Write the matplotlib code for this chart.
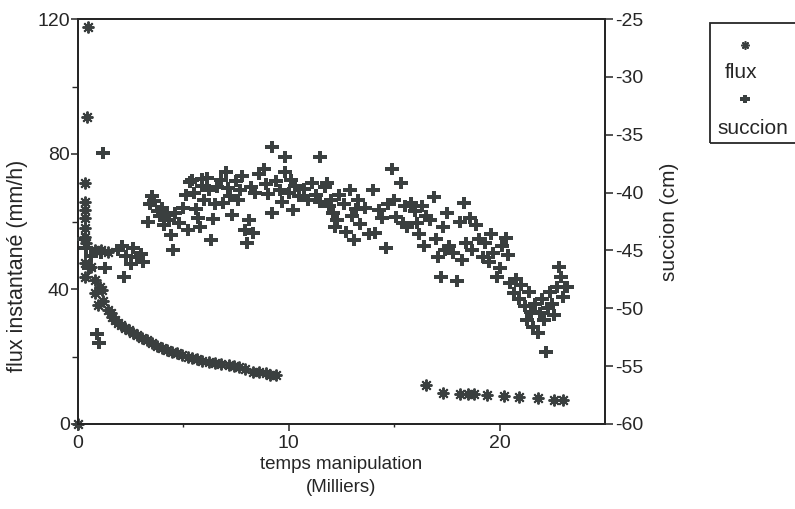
import matplotlib
matplotlib.use("Agg")
import matplotlib.pyplot as plt
from matplotlib.lines import Line2D
from matplotlib.patches import Rectangle
from matplotlib.path import Path

# ---- data ----
flux_t = [0.0, 0.48, 0.43, 0.33, 0.33, 0.35, 0.33, 0.33, 0.35, 0.4, 0.8, 1.1, 1.4,
          0.33, 0.35, 0.6, 0.8, 1.05,
          0.81, 1.14, 0.95, 1.2, 1.43, 1.55, 1.62, 1.75, 1.9, 2.05, 2.24, 2.4, 2.62,
          2.8, 3.05, 3.25, 3.52, 3.75, 4.0, 4.2, 4.48, 4.7, 4.95, 5.2, 5.43, 5.65,
          5.9, 6.2, 6.52, 6.8, 7.14, 7.4, 7.62, 7.9, 8.29, 8.6, 8.9, 9.1, 9.38,
          16.5, 17.3, 18.1, 18.5, 18.8, 19.4, 20.2, 20.9, 21.8, 22.6, 23.0]
flux_val = [0.0, 117.6, 91.0, 71.4, 65.8, 63.4, 61.0, 58.0, 55.5, 53.6, 51.5, 51.5, 51.0,
            47.6, 43.5, 46.5, 42.7, 40.6,
            38.8, 39.7, 35.3, 36.5, 33.8, 33.0, 31.7, 30.8, 29.9, 29.2, 28.4, 27.8, 27.0,
            26.3, 25.5, 24.8, 24.0, 23.1, 22.5, 21.9, 21.3, 20.9, 20.4, 20.0, 19.6, 19.2,
            18.7, 18.5, 18.1, 17.8, 17.5, 17.2, 16.9, 16.2, 15.4, 15.4, 15.1, 14.6, 14.5,
            11.5, 9.2, 9.0, 9.0, 9.0, 8.6, 8.4, 7.9, 7.6, 7.1, 7.1]

succion_t = [0.3, 0.4, 0.6, 0.5, 1.3, 1.2, 0.9, 1.0, 1.1,
             1.9, 2.1, 2.3, 2.6, 2.8, 3.0, 3.1, 2.2, 2.5,
             3.3, 3.4, 3.5, 3.6, 3.8, 3.9, 4.0, 4.2, 4.4, 4.5, 4.1, 4.3,
             4.6, 4.8, 5.0, 5.1, 5.2, 5.3, 5.5, 5.6, 5.7, 5.8, 5.9, 6.0, 5.4, 5.9,
             6.1, 6.2, 6.3, 6.4, 6.5, 6.6, 6.8, 7.0, 7.1, 7.2, 7.3, 7.5, 7.6, 7.8, 7.9,
             8.0, 8.1, 8.2, 8.3, 8.4, 6.9, 7.7,
             8.6, 8.8, 8.9, 9.0, 9.2, 9.2, 9.4, 9.6, 9.8, 9.8, 10.0, 10.2, 10.3, 10.5, 9.7, 10.1,
             10.7, 10.9, 11.1, 11.3, 11.5, 11.5, 11.7, 11.8, 12.0, 12.1, 12.3, 12.4, 12.2, 11.9,
             12.6, 12.7, 12.9, 13.0, 13.1, 13.3, 13.4, 13.6, 13.8, 14.0, 14.1, 14.3, 14.4, 13.2,
             14.6, 14.7, 14.9, 15.0, 15.1, 15.3, 15.5, 15.6, 15.8, 16.0, 16.1, 16.2, 16.4, 16.5,
             15.4, 16.3,
             16.7, 16.9, 17.0, 17.1, 17.2, 17.3, 17.5, 17.6, 17.8, 18.0, 18.1, 18.3, 18.4, 17.4, 18.2,
             18.6, 18.7, 18.9, 19.0, 19.2, 19.3, 19.5, 19.7, 19.9, 20.0, 20.1, 20.3, 20.4, 20.5, 19.6,
             20.7, 20.8, 20.9, 21.0, 21.2, 21.3, 21.4, 21.5, 21.6, 21.7, 21.8, 21.9, 22.0, 22.1,
             22.2, 22.3, 22.4, 22.5, 22.6, 22.7, 22.8, 22.9, 23.0, 23.1, 23.2]
succion_cm = [-44.0, -44.8, -45.5, -46.5, -46.5, -36.6, -52.2, -53.0, -45.2,
              -45.0, -44.6, -45.5, -44.8, -45.6, -45.3, -46.0, -47.3, -46.2,
              -42.5, -41.0, -40.3, -40.7, -41.6, -42.0, -41.3, -41.9, -43.7, -45.0, -42.8, -42.4,
              -41.8, -42.6, -41.3, -40.2, -43.2, -39.1, -40.0, -41.4, -42.2, -43.0, -39.4, -40.6,
              -38.9, -38.8,
              -38.7, -39.8, -44.1, -42.3, -41.0, -39.5, -38.9, -38.2, -39.6, -40.3, -41.9, -39.0,
              -40.6, -38.6, -43.2, -44.4, -42.4, -39.5, -43.5, -40.0, -40.9, -39.8,
              -38.4, -38.0, -39.3, -40.1, -36.1, -41.8, -39.0, -39.8, -36.9, -38.2, -40.0, -41.5,
              -39.4, -40.3, -40.8, -38.9,
              -39.7, -40.6, -39.2, -40.2, -36.9, -40.8, -39.5, -39.2, -40.6, -41.8, -42.4, -40.2,
              -43.0, -41.2,
              -41.0, -43.4, -39.8, -42.0, -44.1, -40.6, -42.7, -41.3, -43.6, -39.8, -43.5, -41.5,
              -42.2, -41.4,
              -44.8, -41.0, -38.0, -40.6, -42.1, -39.2, -41.2, -43.0, -40.9, -41.6, -42.6, -43.6,
              -44.6, -42.0, -42.6, -41.2,
              -42.4, -40.4, -44.0, -45.6, -47.3, -43.0, -41.8, -44.6, -45.2, -47.6, -42.5, -40.9,
              -44.4, -45.0, -45.8,
              -42.2, -45.0, -42.8, -44.0, -45.6, -44.4, -46.0, -45.2, -47.3, -46.5, -44.6, -43.9,
              -45.4, -47.8, -43.6,
              -48.7, -47.5, -49.2, -48.0, -49.8, -51.0, -48.6, -50.3, -51.6, -49.6, -52.1, -50.4,
              -49.2, -51.0,
              -53.8, -50.0, -48.6, -49.6, -50.6, -48.2, -46.4, -47.3, -49.0, -48.2, -48.2]

flux_ticks = [0, 40, 80, 120]
succion_ticks = [-25, -30, -35, -40, -45, -50, -55, -60]
time_ticks = [0, 10, 20]

INK = "#3a3f3f"
TXT = "#262626"

plt.rcParams["font.family"] = ["Liberation Sans", "DejaVu Sans"]

# thick, slightly wide plus-shaped blob used for the "succion" series
t, v = 0.36, 0.85
blob = Path([(-1, -t), (-t, -t), (-t, -v), (t, -v), (t, -t), (1, -t), (1, t),
             (t, t), (t, v), (-t, v), (-t, t), (-1, t), (-1, -t)], closed=True)
star = (8, 2, 0)

fig = plt.figure(figsize=(7.95, 5.09), dpi=100)
ax = fig.add_axes([78 / 795, 1 - 424 / 509, (605 - 78) / 795, (424 - 19) / 509])
ax2 = ax.twinx()

ax.plot(flux_t, flux_val, linestyle="none", marker=star, markersize=8.5,
        markeredgewidth=1.4, color=INK, clip_on=False, zorder=3)
ax2.plot(succion_t, succion_cm, linestyle="none", marker=blob, markersize=9.5,
         markeredgewidth=0, color=INK, clip_on=False, zorder=3)

ax.set_xlim(0, 25)
ax.set_ylim(0, 120)
ax2.set_ylim(-60, -25)

ax.set_xticks(time_ticks)
ax.set_xticks([5, 15], minor=True)
ax.set_yticks(flux_ticks)
ax.set_yticks([20, 60, 100], minor=True)
ax2.set_yticks(succion_ticks)
ax2.set_yticklabels([str(v_) for v_ in succion_ticks])

for a in (ax, ax2):
    for s in a.spines.values():
        s.set_linewidth(1.4)
        s.set_color(TXT)

ax.tick_params(axis="both", which="major", labelsize=14, colors=TXT, width=1.1,
               length=5, direction="out", pad=1)
ax.tick_params(axis="both", which="minor", colors=TXT, width=1.0, length=4, direction="out")
ax.tick_params(axis="x", which="minor", length=2)
ax.tick_params(axis="x", which="major", pad=3)
ax2.tick_params(axis="y", which="major", labelsize=14, colors=TXT, width=1.1,
                length=6, direction="out", pad=1)

ax.set_xlabel("temps manipulation\n(Milliers)", fontsize=13.5, color=TXT,
              linespacing=1.45)
ax.xaxis.set_label_coords(0.5, -0.08, transform=ax.transAxes)
ax.xaxis.label.set_va("top")
ax.set_ylabel("flux instantané (mm/h)", fontsize=15.5, color=TXT)
ax.yaxis.set_label_coords(-0.095, 0.39)
ax2.set_ylabel("succion (cm)", fontsize=15, color=TXT)
ax2.yaxis.set_label_coords(1.105, 0.5)

# legend box (markers above labels)
fig.patches.append(Rectangle((710 / 795, 1 - 143 / 509), 100 / 795, 120 / 509,
                             transform=fig.transFigure, fill=False,
                             edgecolor=TXT, linewidth=1.3))
fig.lines.append(Line2D([745 / 795], [1 - 45 / 509], transform=fig.transFigure,
                        linestyle="none", marker=star, markersize=6,
                        markeredgewidth=1.2, color=INK))
fig.lines.append(Line2D([745 / 795], [1 - 99 / 509], transform=fig.transFigure,
                        linestyle="none", marker=blob, markersize=7,
                        markeredgewidth=0, color=INK))
fig.text(725 / 795, 1 - 73 / 509, "flux", fontsize=15, color=TXT,
         ha="left", va="center")
fig.text(717 / 795, 1 - 128 / 509, "succion", fontsize=15, color=TXT,
         ha="left", va="center")

fig.savefig("out.png", dpi=100)
